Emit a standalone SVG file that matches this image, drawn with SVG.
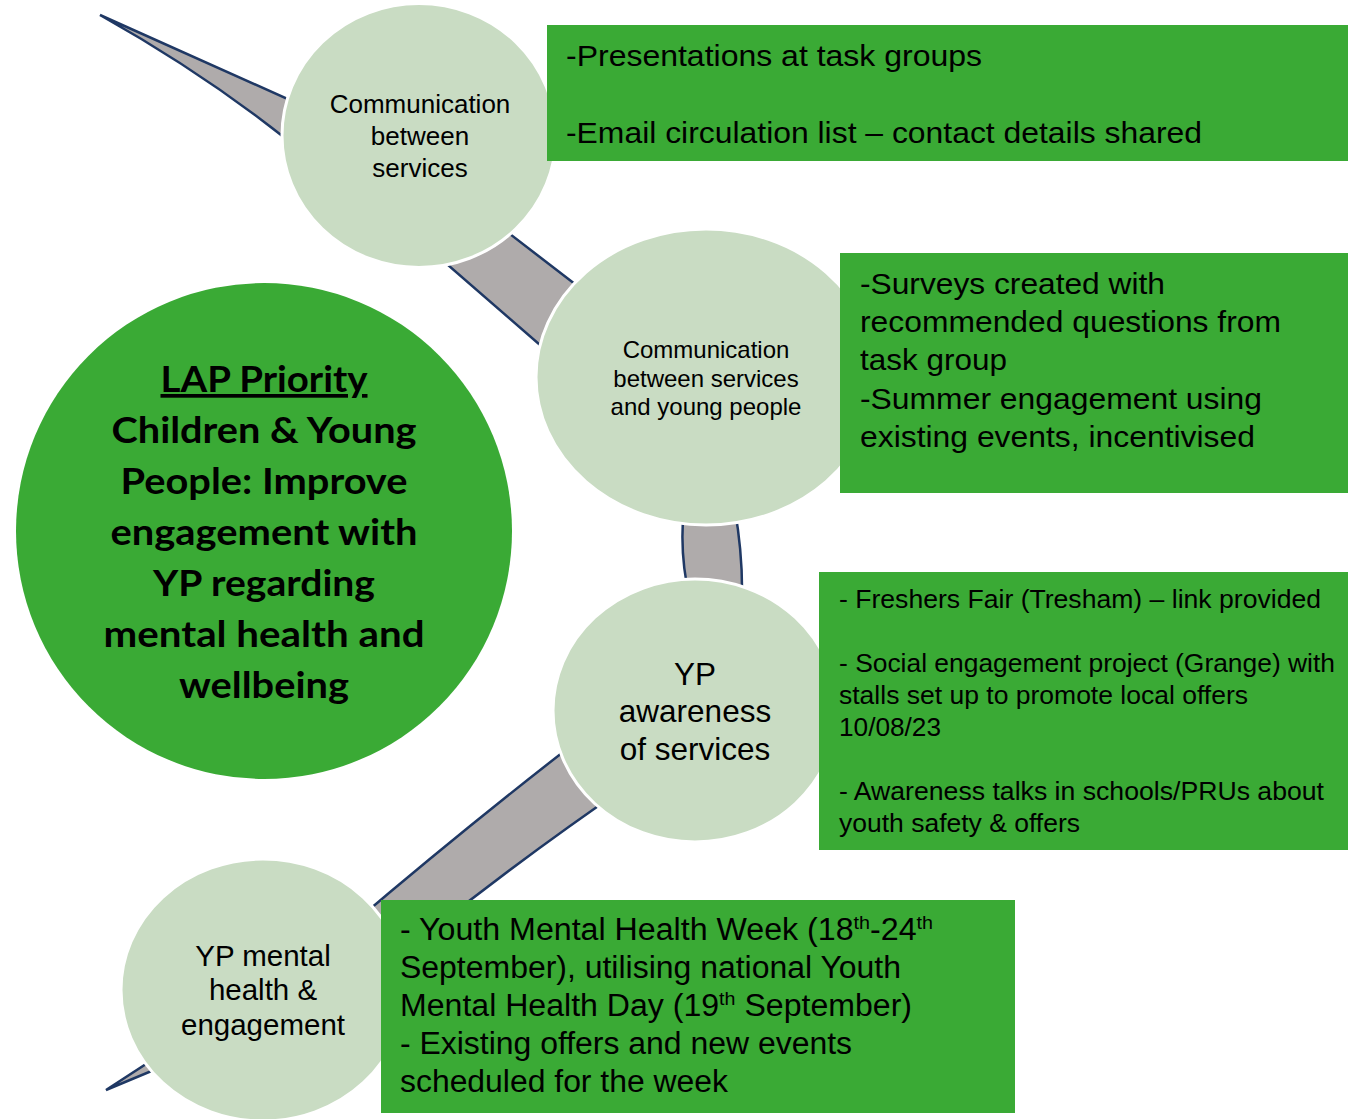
<svg xmlns="http://www.w3.org/2000/svg" width="1348" height="1119" viewBox="0 0 1348 1119">
<style>
.band{fill:#AFABAB;stroke:#1F3864;stroke-width:2.5;stroke-linejoin:miter}
.bub{fill:#C9DCC3;stroke:#FFFFFF;stroke-width:3}
.box{fill:#3AAA35}
.ct{font-family:"Liberation Sans",Arial,sans-serif;fill:#000;text-anchor:middle}
.bt{font-family:"Liberation Sans",Arial,sans-serif;fill:#000;lengthAdjust:spacingAndGlyphs}
.mt{font-family:Lato,"Open Sans",sans-serif;font-weight:700;font-size:37px;fill:#000;text-anchor:middle}
</style>
<rect width="1348" height="1119" fill="#FFFFFF"/>
<g id="connectors">
  <path class="band" d="M100,15 L330,118 L325,171 Q225,85 100,15 Z"/>
  <path class="band" d="M480,211 L610,311 L570,371 L410,232 Z"/>
  <path class="band" d="M685,500 Q678,550 690,600 L742,600 Q743,550 733,500 Z"/>
  <path class="band" d="M589,732 Q472,822 350,926 L400,955 Q516,862 630,784 Z"/>
  <path class="band" d="M106,1090 L180,1042 L190,1055 Z"/>
</g>
<g id="node-priority">
  <circle cx="264" cy="531" r="248" fill="#3AAA35"/>
  <text class="mt" x="264" y="392" textLength="207" lengthAdjust="spacingAndGlyphs" text-decoration="underline">LAP Priority</text>
  <text class="mt" x="264" y="443" textLength="305" lengthAdjust="spacingAndGlyphs">Children &amp; Young</text>
  <text class="mt" x="264" y="494" textLength="287" lengthAdjust="spacingAndGlyphs">People: Improve</text>
  <text class="mt" x="264" y="545" textLength="307" lengthAdjust="spacingAndGlyphs">engagement with</text>
  <text class="mt" x="264" y="596" textLength="222" lengthAdjust="spacingAndGlyphs">YP regarding</text>
  <text class="mt" x="264" y="647" textLength="321" lengthAdjust="spacingAndGlyphs">mental health and</text>
  <text class="mt" x="264" y="698" textLength="170" lengthAdjust="spacingAndGlyphs">wellbeing</text>
</g>
<g id="node-comm-services">
  <ellipse class="bub" cx="419" cy="135.5" rx="137" ry="132"/>
  <text class="ct" x="420" y="113" font-size="26">Communication</text>
  <text class="ct" x="420" y="145" font-size="26">between</text>
  <text class="ct" x="420" y="177" font-size="26">services</text>
</g>
<g id="node-comm-yp">
  <ellipse class="bub" cx="706" cy="377" rx="170" ry="148"/>
  <text class="ct" x="706" y="358" font-size="24">Communication</text>
  <text class="ct" x="706" y="387" font-size="24">between services</text>
  <text class="ct" x="706" y="415" font-size="24">and young people</text>
</g>
<g id="node-awareness">
  <ellipse class="bub" cx="695" cy="710.5" rx="142" ry="131.5"/>
  <text class="ct" x="695" y="685" font-size="31.5">YP</text>
  <text class="ct" x="695" y="722" font-size="31.5">awareness</text>
  <text class="ct" x="695" y="760" font-size="31.5">of services</text>
</g>
<g id="node-mental-health">
  <ellipse class="bub" cx="263" cy="990" rx="142" ry="131"/>
  <text class="ct" x="263" y="966" font-size="29.5">YP mental</text>
  <text class="ct" x="263" y="1000" font-size="29.5">health &amp;</text>
  <text class="ct" x="263" y="1035" font-size="29.5">engagement</text>
</g>
<g id="box-comm-services">
  <rect class="box" x="547" y="25" width="801" height="136"/>
  <text class="bt" x="566" y="66" font-size="30" textLength="416" lengthAdjust="spacingAndGlyphs">-Presentations at task groups</text>
  <text class="bt" x="566" y="143" font-size="30" textLength="636" lengthAdjust="spacingAndGlyphs">-Email circulation list – contact details shared</text>
</g>
<g id="box-comm-yp">
  <rect class="box" x="840" y="253" width="508" height="240"/>
  <text class="bt" x="860" y="294" font-size="30" textLength="305" lengthAdjust="spacingAndGlyphs">-Surveys created with</text>
  <text class="bt" x="860" y="332" font-size="30" textLength="421" lengthAdjust="spacingAndGlyphs">recommended questions from</text>
  <text class="bt" x="860" y="370" font-size="30" textLength="147" lengthAdjust="spacingAndGlyphs">task group</text>
  <text class="bt" x="860" y="409" font-size="30" textLength="402" lengthAdjust="spacingAndGlyphs">-Summer engagement using</text>
  <text class="bt" x="860" y="447" font-size="30" textLength="395" lengthAdjust="spacingAndGlyphs">existing events, incentivised</text>
</g>
<g id="box-awareness">
  <rect class="box" x="819" y="572" width="529" height="278"/>
  <text class="bt" x="839" y="608" font-size="26" textLength="482" lengthAdjust="spacingAndGlyphs">- Freshers Fair (Tresham) – link provided</text>
  <text class="bt" x="839" y="672" font-size="26" textLength="496" lengthAdjust="spacingAndGlyphs">- Social engagement project (Grange) with</text>
  <text class="bt" x="839" y="704" font-size="26" textLength="409" lengthAdjust="spacingAndGlyphs">stalls set up to promote local offers</text>
  <text class="bt" x="839" y="736" font-size="26" textLength="102" lengthAdjust="spacingAndGlyphs">10/08/23</text>
  <text class="bt" x="839" y="800" font-size="26" textLength="485" lengthAdjust="spacingAndGlyphs">- Awareness talks in schools/PRUs about</text>
  <text class="bt" x="839" y="832" font-size="26" textLength="241" lengthAdjust="spacingAndGlyphs">youth safety &amp; offers</text>
</g>
<g id="box-mental-health">
  <rect class="box" x="381" y="900" width="634" height="213"/>
  <text class="bt" x="400" y="940" font-size="31" textLength="533" lengthAdjust="spacingAndGlyphs">- Youth Mental Health Week (18<tspan font-size="19" dy="-11">th</tspan><tspan dy="11">-24</tspan><tspan font-size="19" dy="-11">th</tspan></text>
  <text class="bt" x="400" y="978" font-size="31" textLength="501" lengthAdjust="spacingAndGlyphs">September), utilising national Youth</text>
  <text class="bt" x="400" y="1016" font-size="31" textLength="512" lengthAdjust="spacingAndGlyphs">Mental Health Day (19<tspan font-size="19" dy="-11">th</tspan><tspan dy="11"> September)</tspan></text>
  <text class="bt" x="400" y="1054" font-size="31" textLength="452" lengthAdjust="spacingAndGlyphs">- Existing offers and new events</text>
  <text class="bt" x="400" y="1092" font-size="31" textLength="328" lengthAdjust="spacingAndGlyphs">scheduled for the week</text>
</g>
</svg>
